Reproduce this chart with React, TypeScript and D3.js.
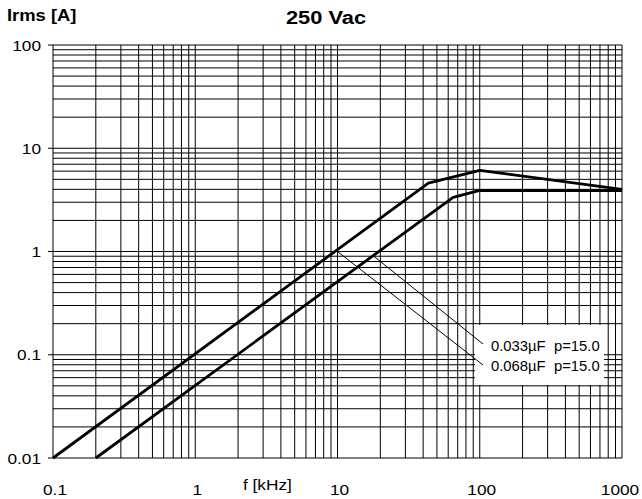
import React from "react";
import * as d3 from "d3";

const xTicks = [0.1, 1, 10, 100, 1000];
const xTickLabels = ["0.1", "1", "10", "100", "1000"];
const yTicks = [0.01, 0.1, 1, 10, 100];
const yTickLabels = ["0.01", "0.1", "1", "10", "100"];

const seriesNames = ["0.033µF  p=15.0", "0.068µF  p=15.0"];
// 0.068µF (upper curve)
const f068 = [0.1, 43.5, 100, 1000];
const i068 = [0.01, 4.6, 6.1, 4.0];
// 0.033µF (lower curve)
const f033 = [0.2, 65, 100, 1000];
const i033 = [0.01, 3.35, 3.9, 3.88];

// leader anchor points on curves (f, I)
const leader033 = [18, 0.9];
const leader068 = [10, 1.0];

const W = 642;
const H = 499;
const M = { left: 53, right: 20, top: 45, bottom: 41 };

export default function App() {
  const x = d3.scaleLog().domain([0.1, 1000]).range([M.left, W - M.right]);
  const y = d3.scaleLog().domain([0.01, 100]).range([H - M.bottom, M.top]);

  const vGrid: number[] = [];
  [0.1, 1, 10, 100].forEach((d) => {
    for (let k = 1; k <= 9; k++) vGrid.push(k * d);
  });
  vGrid.push(1000);
  const hGrid: number[] = [];
  [0.01, 0.1, 1, 10].forEach((d) => {
    for (let k = 1; k <= 9; k++) hGrid.push(k * d);
  });
  hGrid.push(100);

  const line = d3
    .line<[number, number]>()
    .x((d) => x(d[0]))
    .y((d) => y(d[1]));

  const d068 = line(f068.map((f, i) => [f, i068[i]] as [number, number]));
  const d033 = line(f033.map((f, i) => [f, i033[i]] as [number, number]));

  const font = "'Liberation Sans', Arial, sans-serif";
  const boxX = 475;
  const boxY = 325;
  const boxW = 129;
  const boxH = 60;
  const labelX = 491;
  const labelY = [351, 371];
  const leaderEnd = [344, 365];

  const txt = (
    tx: number,
    ty: number,
    s: string,
    size: number,
    anchor: string,
    weight = "normal",
    key?: string,
    sx = 1.15
  ) => (
    <text
      key={key}
      transform={`translate(${tx},${ty}) scale(${sx},1)`}
      fontFamily={font}
      fontSize={size}
      fontWeight={weight}
      textAnchor={anchor}
      fill="#000"
      style={{ whiteSpace: "pre" }}
    >
      {s}
    </text>
  );

  return (
    <svg
      width={W}
      height={H}
      style={{ position: "absolute", left: 0, top: 0, background: "#fff" }}
    >
      <rect x={0} y={0} width={W} height={H} fill="#fff" />
      <g stroke="#000" strokeWidth={1}>
        {vGrid.map((v, i) => (
          <line key={"v" + i} x1={x(v)} x2={x(v)} y1={y(100)} y2={y(0.01)} />
        ))}
        {hGrid.map((v, i) => (
          <line key={"h" + i} x1={x(0.1)} x2={x(1000)} y1={y(v)} y2={y(v)} />
        ))}
        {yTicks.map((v, i) => (
          <line key={"t" + i} x1={x(0.1) - 5} x2={x(0.1)} y1={y(v)} y2={y(v)} />
        ))}
      </g>
      <rect x={boxX} y={boxY} width={boxW} height={boxH} fill="#fff" />
      <path d={d068 || ""} fill="none" stroke="#000" strokeWidth={2.8} strokeLinejoin="round" />
      <path d={d033 || ""} fill="none" stroke="#000" strokeWidth={2.8} strokeLinejoin="round" />
      <g stroke="#000" strokeWidth={1}>
        <line x1={x(leader033[0])} y1={y(leader033[1])} x2={483} y2={leaderEnd[0]} />
        <line x1={x(leader068[0])} y1={y(leader068[1])} x2={483} y2={leaderEnd[1]} />
      </g>
      {seriesNames.map((s, i) => txt(labelX, labelY[i], s, 14, "start", "normal", "s" + i, 1.06))}
      {yTicks.map((v, i) => txt(41, y(v) + 5.5, yTickLabels[i], 15, "end", "normal", "yl" + i))}
      {xTicks.map((v, i) =>
        txt(x(v) + (i === xTicks.length - 1 ? -2 : 2), 495, xTickLabels[i], 15, "middle", "normal", "xl" + i)
      )}
      {txt(243, 490, "f [kHz]", 15, "start")}
      {txt(7, 20.5, "Irms [A]", 16, "start", "bold")}
      {txt(326, 23.5, "250 Vac", 19, "middle", "bold")}
    </svg>
  );
}
